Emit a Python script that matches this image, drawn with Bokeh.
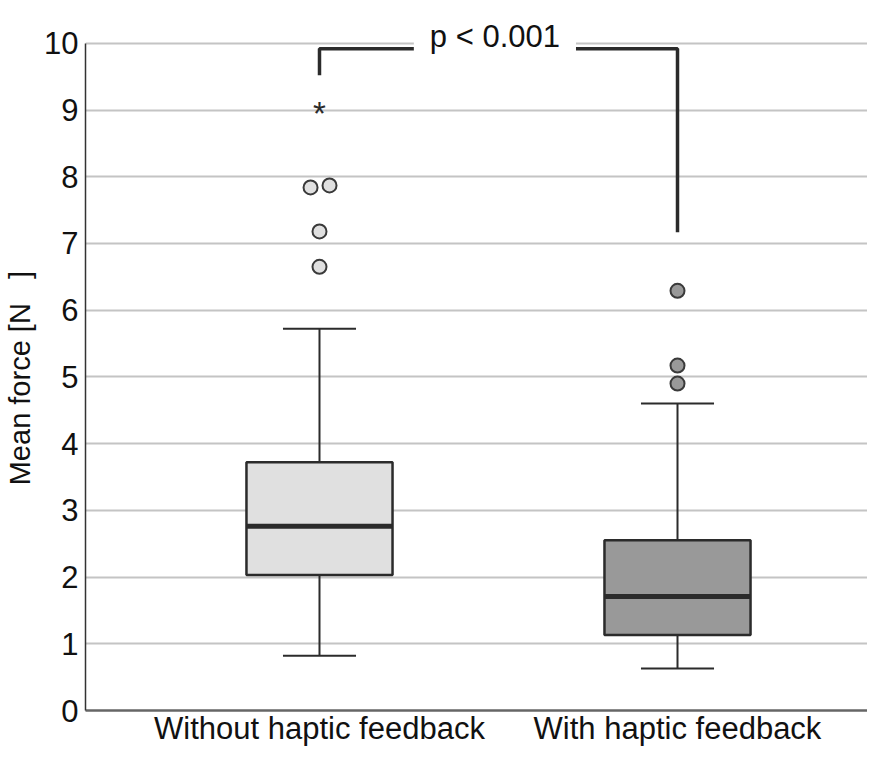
from bokeh.plotting import figure
from bokeh.models import Range1d, FixedTicker, ColumnDataSource, Label
from bokeh.core.properties import value
from bokeh.embed import file_html
from bokeh.resources import INLINE

# ---- data ----
categories = ["Without haptic feedback", "With haptic feedback"]
positions = [1, 2]
q1 = [2.03, 1.13]
median = [2.76, 1.71]
q3 = [3.72, 2.55]
whisker_low = [0.82, 0.63]
whisker_high = [5.72, 4.60]
box_fill = ["#e0e0e0", "#999999"]

outlier_group = [1, 1, 1, 1, 2, 2, 2]
outlier_jitter = [0.0, 0.0, -0.025, 0.028, 0.0, 0.0, 0.0]
outlier_values = [6.65, 7.18, 7.84, 7.87, 6.29, 5.17, 4.90]
outlier_fill = ["#e0e0e0"] * 4 + ["#999999"] * 3

extreme_group = [1]
extreme_values = [9.03]

bracket_x = [1, 1, 2, 2]
bracket_y = [9.52, 9.92, 9.92, 7.17]
p_text = "p < 0.001"

y_ticks = list(range(0, 11))

FONT = "Liberation Sans"
DARK = "#2b2b2b"
BOX_W = 0.408
CAP_W = 0.204
NB = "\u00a0"

p = figure(width=867, height=748, output_backend="svg", toolbar_location=None,
           x_range=Range1d(0.3464, 2.5307), y_range=Range1d(0, 10.447),
           min_border_left=85, min_border_right=0, min_border_top=13,
           min_border_bottom=34)
p.outline_line_color = None
p.background_fill_color = "white"
p.border_fill_color = "white"

# axes
p.xaxis.ticker = FixedTicker(ticks=positions)
p.xaxis.major_label_overrides = {pos: c for pos, c in zip(positions, categories)}
p.xaxis.major_label_text_font = FONT
p.xaxis.major_label_text_font_size = "31px"
p.xaxis.major_label_text_color = "#111111"
p.xaxis.major_tick_line_color = None
p.xaxis.major_tick_out = 0
p.xaxis.major_tick_in = 0
p.xaxis.minor_tick_line_color = None
p.xaxis.major_label_standoff = 0
p.xaxis.axis_label_standoff = 0
p.xaxis.axis_line_color = "#666666"
p.xaxis.axis_line_width = 2.5

p.yaxis.ticker = FixedTicker(ticks=y_ticks)
p.yaxis.bounds = (0, 10)
p.yaxis.major_label_text_font = FONT
p.yaxis.major_label_text_font_size = "31px"
p.yaxis.major_label_text_color = "#111111"
p.yaxis.major_tick_line_color = None
p.yaxis.major_tick_out = 0
p.yaxis.major_tick_in = 0
p.yaxis.minor_tick_line_color = None
p.yaxis.major_label_standoff = 7
p.yaxis.axis_line_color = "#333333"
p.yaxis.axis_line_width = 1.5
p.yaxis.axis_label = "Mean force [N" + NB * 3 + "]" + NB * 4
p.yaxis.axis_label_text_font = FONT
p.yaxis.axis_label_text_font_size = "29px"
p.yaxis.axis_label_text_font_style = "normal"
p.yaxis.axis_label_text_color = "#111111"
p.yaxis.axis_label_standoff = 5

p.xgrid.grid_line_color = None
p.ygrid.ticker = FixedTicker(ticks=y_ticks)
p.ygrid.grid_line_color = "#c4c4c4"
p.ygrid.grid_line_width = 1.8

# boxes
src = ColumnDataSource(dict(
    x=positions, q1=q1, med=median, q3=q3, lo=whisker_low, hi=whisker_high,
    fill=box_fill,
    x0=[x - BOX_W / 2 for x in positions], x1=[x + BOX_W / 2 for x in positions],
    c0=[x - CAP_W / 2 for x in positions], c1=[x + CAP_W / 2 for x in positions],
))
p.segment(x0="x", y0="q3", x1="x", y1="hi", source=src, line_color=DARK, line_width=2)
p.segment(x0="x", y0="q1", x1="x", y1="lo", source=src, line_color=DARK, line_width=2)
p.segment(x0="c0", y0="hi", x1="c1", y1="hi", source=src, line_color=DARK, line_width=2)
p.segment(x0="c0", y0="lo", x1="c1", y1="lo", source=src, line_color=DARK, line_width=2)
p.quad(left="x0", right="x1", bottom="q1", top="q3", source=src,
       fill_color="fill", line_color=DARK, line_width=2.5)
p.segment(x0="x0", y0="med", x1="x1", y1="med", source=src, line_color=DARK, line_width=5)

# outliers
osrc = ColumnDataSource(dict(
    x=[g + j for g, j in zip(outlier_group, outlier_jitter)],
    y=outlier_values, fill=outlier_fill))
p.scatter(x="x", y="y", source=osrc, size=14, fill_color="fill",
          line_color="#3a3a3a", line_width=2)

# extreme value
p.text(x=extreme_group, y=extreme_values, text=["*"], text_align="center",
       text_baseline="middle", text_font=value(FONT), text_font_size="33px",
       text_color=DARK, y_offset=5)

# significance bracket
p.line(x=bracket_x, y=bracket_y, line_color=DARK, line_width=3.5)
p.add_layout(Label(x=1.49, y=10, text=p_text, text_align="center",
                   text_baseline="alphabetic", y_offset=7,
                   text_font=FONT, text_font_size="31px", text_color="#111111",
                   background_fill_color="white", padding=(16, 4)))

open("out.html", "w").write(file_html(p, INLINE))
